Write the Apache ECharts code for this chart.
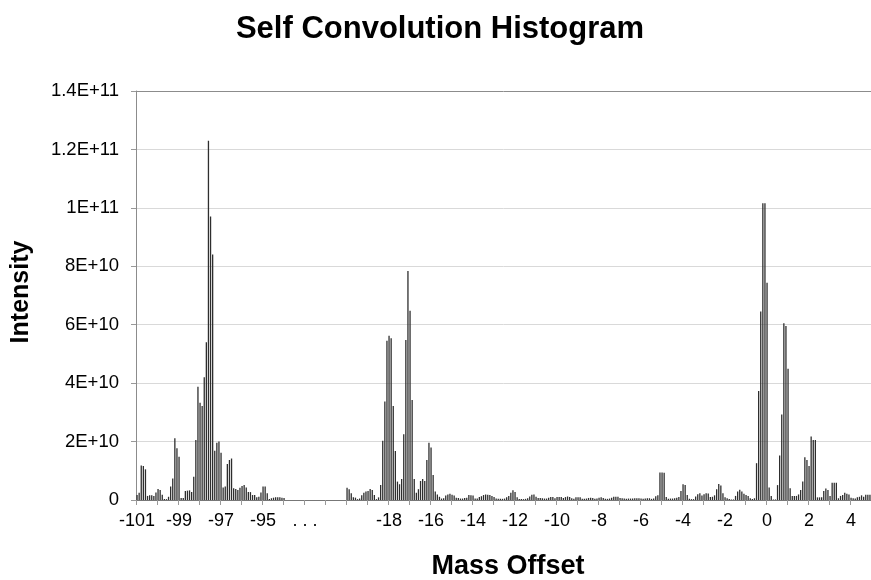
<!DOCTYPE html>
<html>
<head>
<meta charset="utf-8">
<script src="https://cdn.jsdelivr.net/npm/echarts@6/dist/echarts.min.js"></script>
<style>
  html, body { margin: 0; padding: 0; background: #fff; }
  #chart { width: 871px; height: 580px; }
</style>
</head>
<body>
<div id="chart"></div>
<script>
// Intensities in units of 1E9, one bar per 0.1 Da of mass offset.
// Left block: offsets -101.0 .. -94.0
const leftStart = -101.0;
const leftValues = [
  1.7, 2.5, 11.8, 11.6, 10.5, 1.4, 1.6, 1.6, 1.4, 2.6,
  3.8, 3.4, 1.8, 0.3, 0.3, 1.1, 4.6, 7.4, 21.1, 17.7,
  14.8, 0.7, 0.7, 3.1, 3.2, 3.3, 2.7, 8.0, 20.5, 38.8,
  33.3, 32.2, 42.0, 54.0, 123.0, 97.0, 84.0, 16.9, 19.6, 20.0,
  16.2, 4.3, 4.6, 12.3, 13.7, 14.2, 4.0, 3.8, 3.4, 4.2,
  4.8, 5.1, 4.3, 2.7, 2.7, 1.7, 1.7, 0.9, 1.1, 2.6,
  4.6, 4.6, 2.3, 0.3, 0.6, 0.8, 0.9, 0.9, 0.9, 0.8,
  0.7
];
// Empty slots on the axis: the rest of the left block plus the "..." break
const leftSlots = 80;
const gapSlots = 20;
// Right block: offsets -20.0 .. 4.9
const rightStart = -20.0;
const rightValues = [
  4.2, 3.7, 2.3, 0.9, 0.8, 0.3, 0.5, 1.6, 2.5, 2.9,
  3.1, 3.8, 3.4, 1.7, 0.3, 0.9, 5.1, 20.3, 33.7, 54.5,
  56.2, 55.4, 32.2, 16.8, 6.3, 5.4, 7.2, 22.5, 54.8, 78.4,
  64.8, 34.2, 7.2, 2.5, 3.7, 6.5, 7.2, 6.5, 13.7, 19.6,
  18.0, 8.6, 2.9, 1.9, 1.1, 0.5, 0.6, 1.5, 1.9, 2.1,
  1.8, 1.5, 0.8, 0.7, 0.5, 0.5, 0.7, 0.8, 1.7, 1.6,
  1.5, 0.5, 0.5, 1.0, 1.3, 1.7, 1.9, 1.8, 1.7, 1.4,
  1.0, 0.5, 0.4, 0.4, 0.4, 0.5, 0.9, 1.4, 2.5, 3.3,
  2.7, 0.9, 0.3, 0.3, 0.3, 0.4, 0.6, 1.2, 1.8, 1.9,
  1.1, 0.7, 0.7, 0.6, 0.5, 0.5, 0.8, 1.0, 1.0, 0.6,
  1.0, 1.0, 1.0, 0.7, 1.0, 1.2, 1.0, 0.6, 0.4, 0.9,
  0.9, 0.9, 0.4, 0.4, 0.5, 0.7, 0.8, 0.7, 0.4, 0.5,
  0.8, 0.9, 0.7, 0.4, 0.4, 0.5, 0.8, 1.1, 1.1, 1.1,
  0.7, 0.6, 0.5, 0.4, 0.5, 0.5, 0.5, 0.6, 0.6, 0.6,
  0.5, 0.4, 0.5, 0.6, 0.6, 0.4, 0.5, 1.3, 1.6, 9.4,
  9.4, 9.3, 1.0, 0.4, 0.5, 0.5, 0.6, 0.8, 1.0, 3.1,
  5.4, 5.1, 1.7, 0.4, 0.3, 0.3, 1.2, 2.0, 2.3, 1.5,
  2.0, 2.3, 2.2, 1.0, 1.1, 1.6, 3.7, 5.5, 5.0, 2.3,
  0.9, 0.6, 0.3, 0.2, 0.2, 1.4, 2.9, 3.5, 2.9, 2.1,
  1.7, 1.4, 0.6, 0.3, 0.6, 12.6, 37.3, 64.5, 101.6, 101.6,
  74.4, 4.3, 1.4, 0.2, 0.2, 5.1, 15.2, 29.3, 60.5, 59.6,
  44.9, 4.0, 1.4, 1.4, 1.4, 1.9, 3.4, 6.3, 14.6, 13.7,
  11.6, 21.7, 20.5, 20.5, 0.9, 0.9, 0.9, 3.1, 3.9, 3.4,
  1.4, 5.9, 5.9, 5.9, 0.6, 1.4, 1.7, 2.5, 2.1, 1.9,
  0.8, 0.6, 0.5, 0.9, 1.1, 1.6, 1.1, 1.8, 1.8, 1.8
];
const valueScale = 1e9;

// Axis tick labels (one every 20 slots = every 2 Da)
const xTickLabels = ['-101', '-99', '-97', '-95', '. . .', '', '-18', '-16', '-14',
  '-12', '-10', '-8', '-6', '-4', '-2', '0', '2', '4'];
const yTickLabels = ['0', '2E+10', '4E+10', '6E+10', '8E+10', '1E+11', '1.2E+11', '1.4E+11'];

// Build categories and series data
const categories = [];
const seriesData = [];
for (let i = 0; i < leftSlots; i++) {
  categories.push('L' + (leftStart + i / 10).toFixed(1));
  seriesData.push(i < leftValues.length ? leftValues[i] * valueScale : null);
}
for (let i = 0; i < gapSlots; i++) {
  categories.push('G' + i);
  seriesData.push(null);
}
for (let i = 0; i < rightValues.length; i++) {
  categories.push('R' + (rightStart + i / 10).toFixed(1));
  seriesData.push(rightValues[i] * valueScale);
}

const FONT = "'Liberation Sans', Arial, sans-serif";
const chart = echarts.init(document.getElementById('chart'), null, { renderer: 'canvas' });

const gridColors = ['#d9d9d9', '#d9d9d9', '#d9d9d9', '#d9d9d9', '#d9d9d9', '#d9d9d9', '#d9d9d9', '#8c8c8c'];

chart.setOption({
  animation: false,
  backgroundColor: '#ffffff',
  grid: { left: 136, right: 0, top: 91, bottom: 80, containLabel: false },
  xAxis: {
    type: 'category',
    data: categories,
    boundaryGap: true,
    axisLine: { show: true, lineStyle: { color: '#777', width: 1 } },
    axisTick: { show: true, interval: 9, length: 5, lineStyle: { color: '#999' } },
    axisLabel: {
      interval: (idx) => idx % 20 === 0,
      formatter: (val, idx) => {
        const k = idx / 20;
        return Number.isInteger(k) && xTickLabels[k] !== undefined ? xTickLabels[k] : '';
      },
      margin: 12,
      fontSize: 18,
      color: '#000',
      fontFamily: FONT
    },
    splitLine: { show: false }
  },
  yAxis: {
    type: 'value',
    min: 0,
    max: 1.4e11,
    interval: 2e10,
    axisLine: { show: true, lineStyle: { color: '#8c8c8c', width: 1 } },
    axisTick: { show: true, length: 5, lineStyle: { color: '#999' } },
    axisLabel: {
      formatter: (v) => yTickLabels[Math.round(v / 2e10)],
      margin: 17,
      fontSize: 18.5,
      color: '#000',
      fontFamily: FONT
    },
    splitLine: { show: true, lineStyle: { color: gridColors, width: 1 } }
  },
  series: [{
    type: 'bar',
    data: seriesData,
    barWidth: 1.3,
    itemStyle: { color: '#2e2e2e' },
    emphasis: { disabled: true },
    silent: true
  }],
  graphic: [
    {
      type: 'text', x: 440, y: 29,
      style: {
        text: 'Self Convolution Histogram',
        font: "bold 31px " + FONT,
        fill: '#000', textAlign: 'center', textVerticalAlign: 'middle'
      }
    },
    {
      type: 'text', x: 508, y: 567,
      style: {
        text: 'Mass Offset',
        font: "bold 27px " + FONT,
        fill: '#000', textAlign: 'center', textVerticalAlign: 'middle'
      }
    },
    {
      type: 'text', x: 21, y: 292, rotation: Math.PI / 2,
      style: {
        text: 'Intensity',
        font: "bold 25px " + FONT,
        fill: '#000', textAlign: 'center', textVerticalAlign: 'middle'
      }
    }
  ]
});
</script>
</body>
</html>
